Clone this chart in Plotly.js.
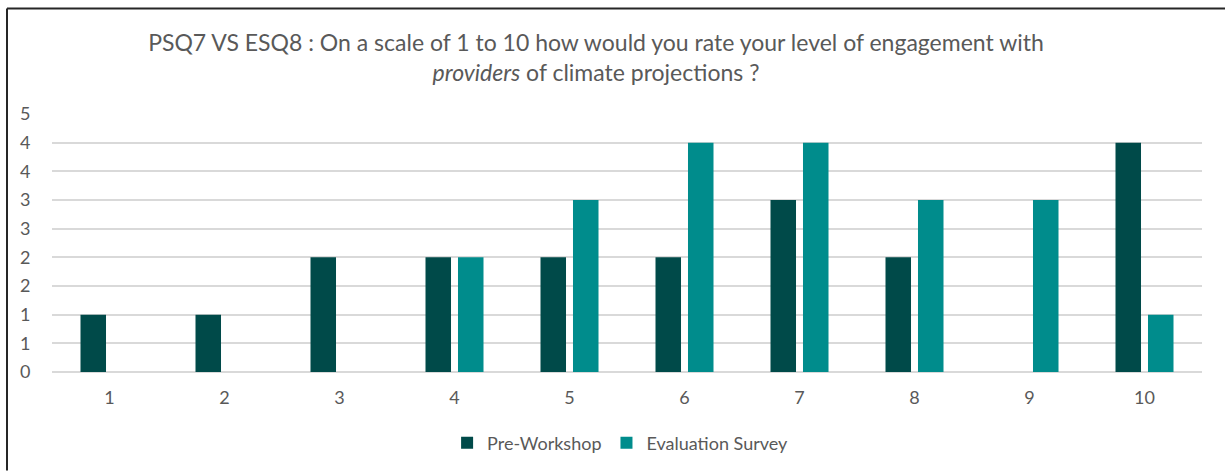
<!DOCTYPE html>
<html>
<head>
<meta charset="utf-8">
<script src="https://cdn.plot.ly/plotly-3.0.1.min.js"></script>
<style>
  html, body { margin: 0; padding: 0; background: #fff; }
  #chart { width: 1225px; height: 472px; }
</style>
</head>
<body>
<div id="chart"></div>
<script>
const categories = ["1", "2", "3", "4", "5", "6", "7", "8", "9", "10"];
const preWorkshop = [1, 1, 2, 2, 2, 2, 3, 2, 0, 4];
const evaluationSurvey = [0, 0, 0, 2, 3, 4, 4, 3, 3, 1];
const yTickVals = [0, 0.5, 1, 1.5, 2, 2.5, 3, 3.5, 4, 4.5];
const yTickText = ["0", "1", "1", "2", "2", "3", "3", "4", "4", "5"];

const FONT = "Lato, 'Open Sans', sans-serif";
const GRAY = "#595959";

const traces = [
  {
    type: "bar", name: "Pre-Workshop", x: categories, y: preWorkshop,
    marker: { color: "#004A49", line: { width: 0 } },
    hoverinfo: "x+y"
  },
  {
    type: "bar", name: "Evaluation Survey", x: categories, y: evaluationSurvey,
    marker: { color: "#008C8C", line: { width: 0 } },
    hoverinfo: "x+y"
  }
];

const layout = {
  width: 1225, height: 472,
  margin: { l: 52, r: 23, t: 114, b: 99 },
  paper_bgcolor: "#fff", plot_bgcolor: "#fff",
  font: { family: FONT, color: GRAY, size: 18 },
  barmode: "group",
  bargap: 0.435,
  bargroupgap: 0.215,
  title: {
    text: "PSQ7 VS ESQ8 : On a scale of 1 to 10 how would you rate your level of engagement with<br><i>providers</i> of climate projections ?",
    font: { family: FONT, size: 23, color: GRAY },
    x: 596 / 1225, xanchor: "center",
    y: 1 - 51 / 472, yanchor: "middle", yref: "container"
  },
  xaxis: {
    type: "category",
    showgrid: false, zeroline: false, showline: false,
    ticks: "outside", ticklen: 9, tickcolor: "rgba(0,0,0,0)",
    tickfont: { family: FONT, size: 18, color: GRAY }
  },
  yaxis: {
    range: [0, 4.5],
    tickmode: "array", tickvals: yTickVals, ticktext: yTickText,
    showgrid: true, gridcolor: "#D9D9D9", gridwidth: 1.5,
    zeroline: true, zerolinecolor: "#D9D9D9", zerolinewidth: 1.5,
    showline: false,
    ticks: "outside", ticklen: 17, tickcolor: "rgba(0,0,0,0)",
    tickfont: { family: FONT, size: 18, color: GRAY }
  },
  showlegend: true,
  legend: {
    orientation: "h", x: 0.494, xanchor: "center",
    y: -(443 - 373) / 259, yanchor: "middle",
    font: { family: FONT, size: 18, color: GRAY },
    itemwidth: 30, traceorder: "normal"
  },
  shapes: [
    { type: "line", xref: "paper", yref: "paper",
      x0: (7 - 52) / 1150, x1: (1225 - 52) / 1150,
      y0: (373 - 8) / 259, y1: (373 - 8) / 259,
      line: { color: "#262626", width: 2 } },
    { type: "line", xref: "paper", yref: "paper",
      x0: (7 - 52) / 1150, x1: (7 - 52) / 1150,
      y0: (373 - 8) / 259, y1: (373 - 472) / 259,
      line: { color: "#262626", width: 2 } }
  ]
};

Plotly.newPlot("chart", traces, layout, { displayModeBar: false, responsive: false });
</script>
</body>
</html>
